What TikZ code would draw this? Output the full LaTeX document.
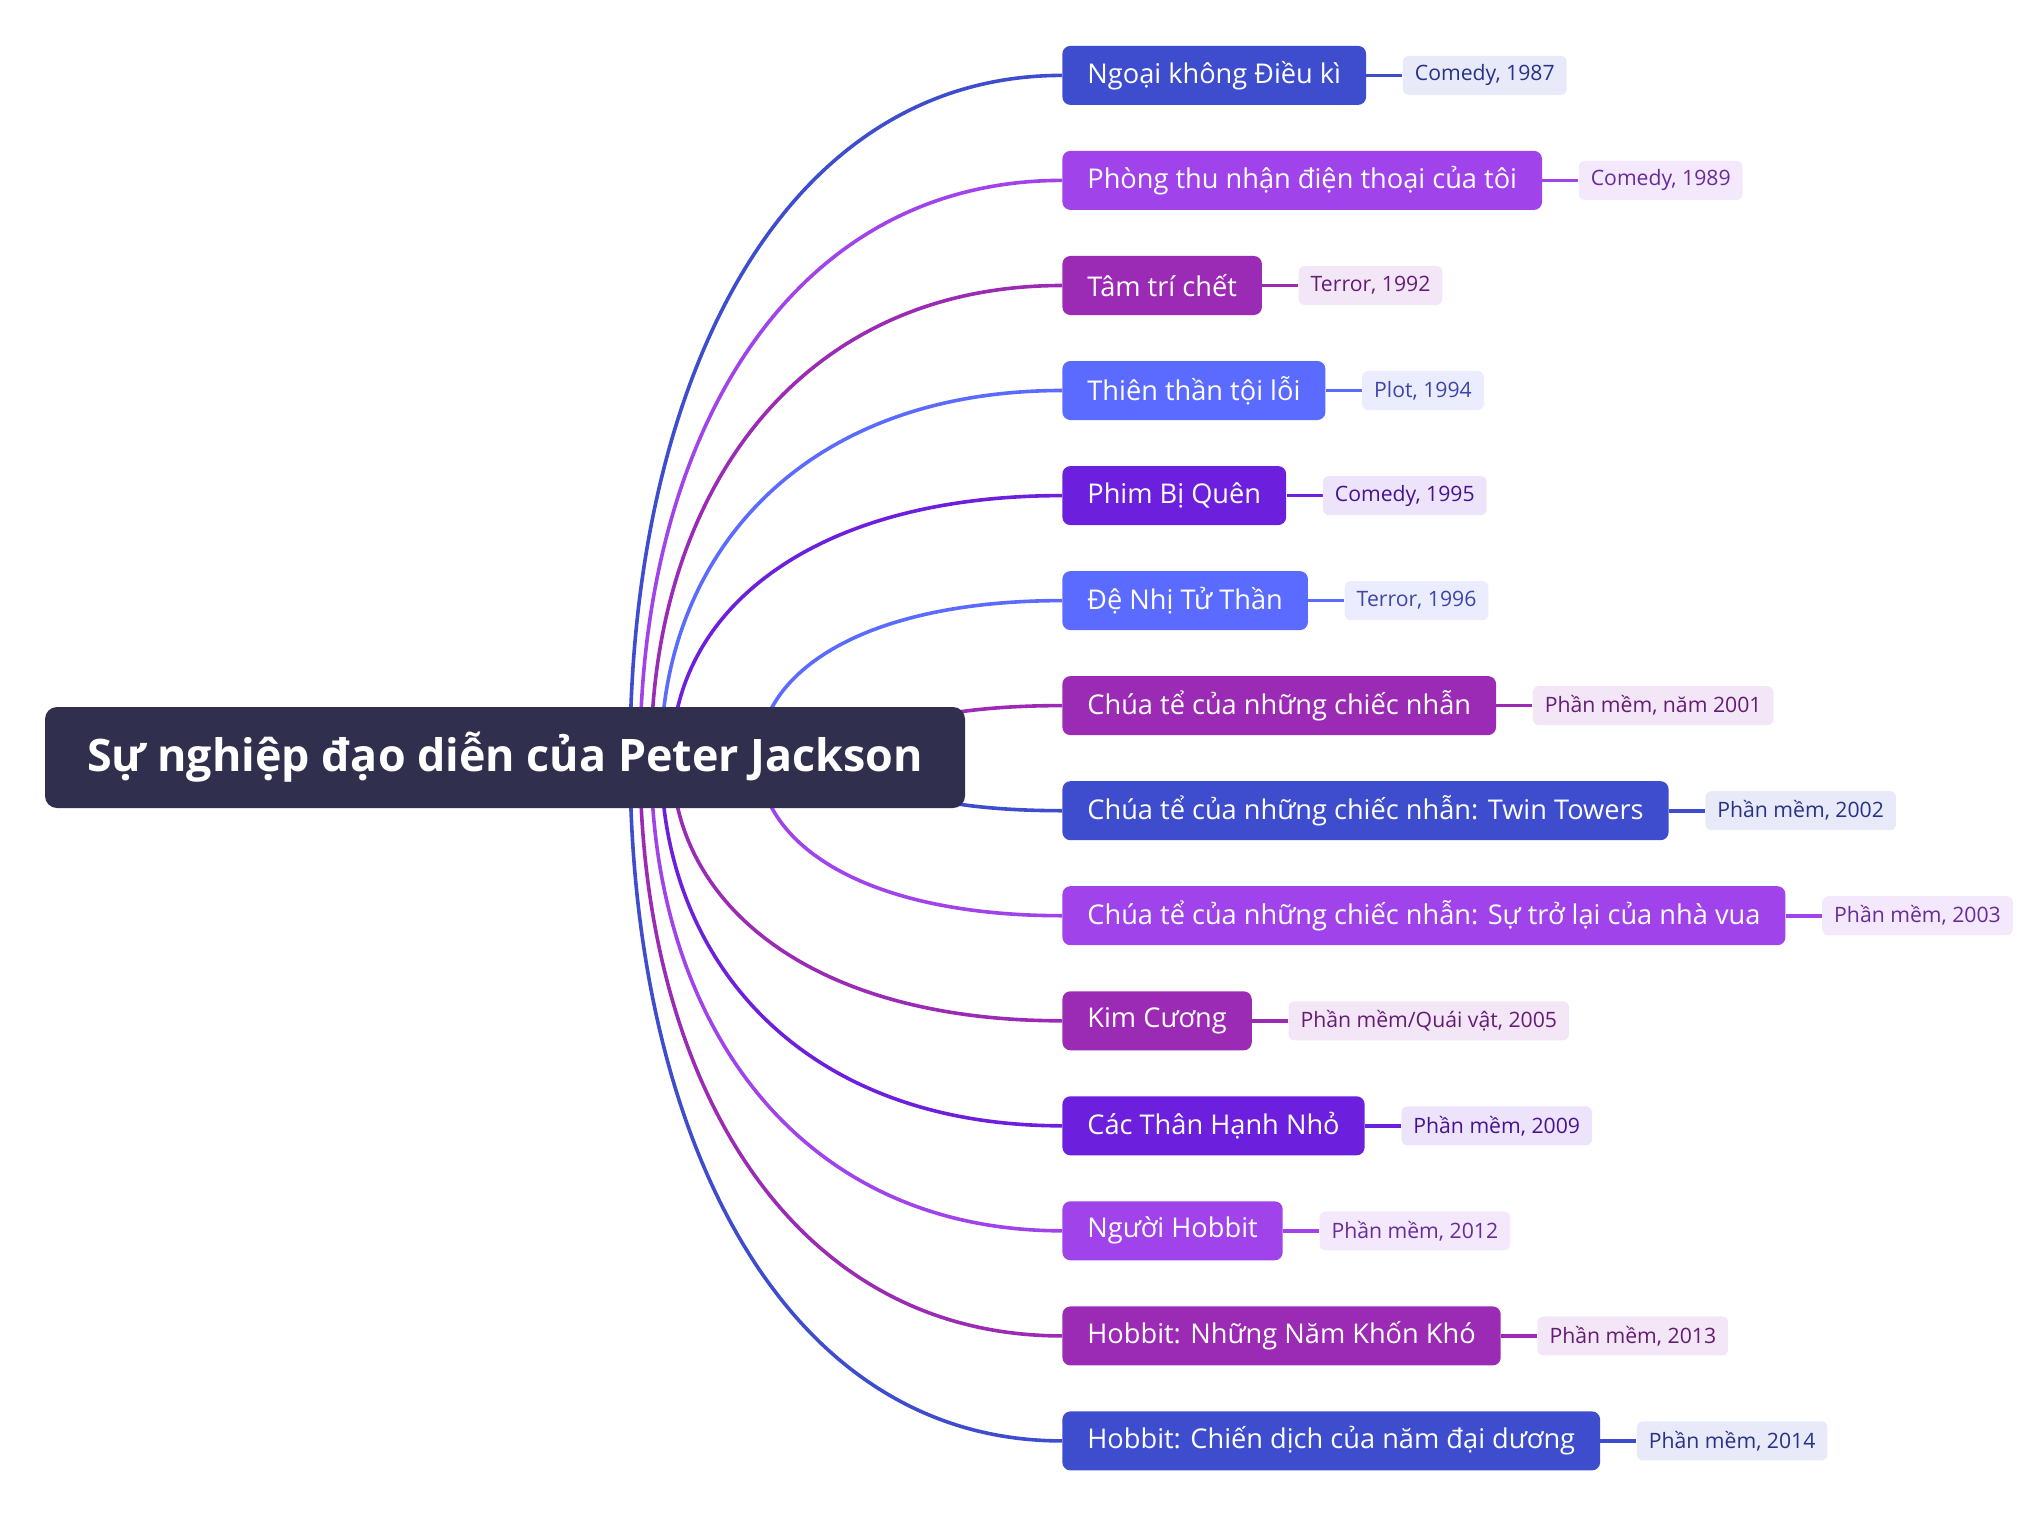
\documentclass[tikz,border=0pt]{standalone}
\usepackage{fontspec}
\setmainfont{Open Sans}
\usetikzlibrary{positioning,calc,backgrounds}

\definecolor{rootbg}{HTML}{30304E}
\definecolor{pjblue}{HTML}{3D4DCE}
\definecolor{pjviolet}{HTML}{A043EA}
\definecolor{pjmagenta}{HTML}{9B2BB4}
\definecolor{pjlight}{HTML}{5B6BFF}
\definecolor{pjdeep}{HTML}{6C1FDD}

\begin{document}
\begin{tikzpicture}[x=0.5pt,y=-0.5pt,
  movie/.style={fill=#1, text=white, rounded corners=4pt, anchor=west,
    minimum height=29.5pt, inner xsep=12.5pt, inner ysep=0pt,
    font=\fontsize{13.6}{16}\selectfont},
  genre/.style={fill=#1!12, text=#1!65!black, rounded corners=3pt,
    minimum height=19.5pt, inner xsep=6pt, inner ysep=0pt,
    font=\fontsize{10.6}{13}\selectfont},
  branch/.style={draw=#1, line width=1.8pt},
]
\useasboundingbox (0,0) rectangle (2039,1530);

% Central topic
\node[fill=rootbg, text=white, rounded corners=6pt, minimum width=460pt, minimum height=50.5pt,
  font=\fontsize{22.4}{26}\selectfont\bfseries] (root) at (505,757.5) {Sự nghiệp đạo diễn của Peter Jackson};

% Films
\node[movie=pjblue] (c1) at (1062,75.4) {Ngoại không Điều kì};
\node[movie=pjviolet] (c2) at (1062,180.4) {Phòng thu nhận điện thoại của tôi};
\node[movie=pjmagenta] (c3) at (1062,285.5) {Tâm trí chết};
\node[movie=pjlight] (c4) at (1062,390.5) {Thiên thần tội lỗi};
\node[movie=pjdeep] (c5) at (1062,495.6) {Phim Bị Quên};
\node[movie=pjlight] (c6) at (1062,600.6) {Đệ Nhị Tử Thần};
\node[movie=pjmagenta] (c7) at (1062,705.6) {Chúa tể của những chiếc nhẫn};
\node[movie=pjblue] (c8) at (1062,810.7) {Chúa tể của những chiếc nhẫn: Twin Towers};
\node[movie=pjviolet] (c9) at (1062,915.7) {Chúa tể của những chiếc nhẫn: Sự trở lại của nhà vua};
\node[movie=pjmagenta] (c10) at (1062,1020.8) {Kim Cương};
\node[movie=pjdeep] (c11) at (1062,1125.8) {Các Thân Hạnh Nhỏ};
\node[movie=pjviolet] (c12) at (1062,1230.8) {Người Hobbit};
\node[movie=pjmagenta] (c13) at (1062,1335.9) {Hobbit: Những Năm Khốn Khó};
\node[movie=pjblue] (c14) at (1062,1440.9) {Hobbit: Chiến dịch của năm đại dương};

% Genre / year tags
\node[genre=pjblue, right=18pt of c1] (t1) {Comedy, 1987};
\node[genre=pjviolet, right=18pt of c2] (t2) {Comedy, 1989};
\node[genre=pjmagenta, right=18pt of c3] (t3) {Terror, 1992};
\node[genre=pjlight, right=18pt of c4] (t4) {Plot, 1994};
\node[genre=pjdeep, right=18pt of c5] (t5) {Comedy, 1995};
\node[genre=pjlight, right=18pt of c6] (t6) {Terror, 1996};
\node[genre=pjmagenta, right=18pt of c7] (t7) {Phần mềm, năm 2001};
\node[genre=pjblue, right=18pt of c8] (t8) {Phần mềm, 2002};
\node[genre=pjviolet, right=18pt of c9] (t9) {Phần mềm, 2003};
\node[genre=pjmagenta, right=18pt of c10] (t10) {Phần mềm/Quái vật, 2005};
\node[genre=pjdeep, right=18pt of c11] (t11) {Phần mềm, 2009};
\node[genre=pjviolet, right=18pt of c12] (t12) {Phần mềm, 2012};
\node[genre=pjmagenta, right=18pt of c13] (t13) {Phần mềm, 2013};
\node[genre=pjblue, right=18pt of c14] (t14) {Phần mềm, 2014};

% Branches, behind the central topic
\begin{scope}[on background layer]
\foreach \i/\s/\col in {1/62.5/pjblue, 2/67.5/pjviolet, 3/73/pjmagenta, 4/78/pjlight,
    5/83.5/pjdeep, 6/127/pjlight, 7/180/pjmagenta, 8/180/pjblue, 9/127/pjviolet,
    10/83.5/pjmagenta, 11/78/pjdeep, 12/73/pjviolet, 13/67.5/pjmagenta, 14/62.5/pjblue}{
  \coordinate (s\i) at ([xshift=\s pt]root.center);
  \coordinate (k\i) at (s\i |- c\i.west);
  \draw[branch=\col] (s\i) .. controls ($(s\i)!0.55!(k\i)$) and ($(c\i.west)!0.65!(k\i)$) .. (c\i.west);
  \draw[branch=\col] (c\i) -- (t\i);
}
\end{scope}

\end{tikzpicture}
\end{document}
